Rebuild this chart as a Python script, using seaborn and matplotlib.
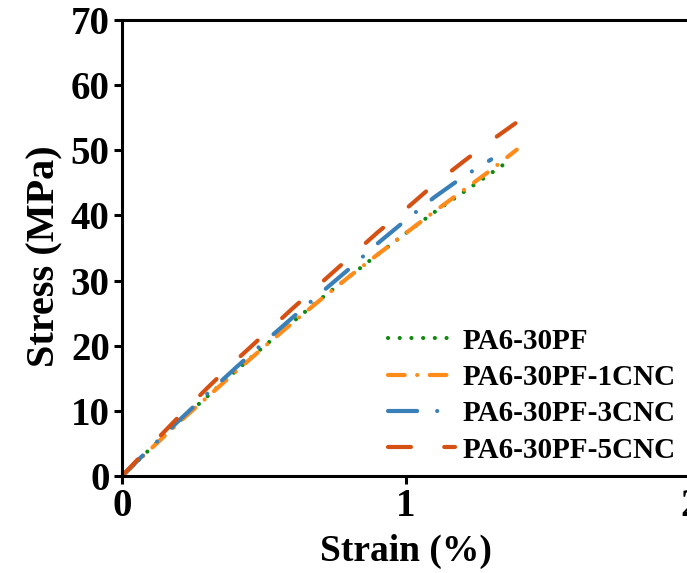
import matplotlib
matplotlib.use("Agg")
import matplotlib.pyplot as plt
import seaborn as sns
import pandas as pd

# ---- data ----
strain_pf = [0, 0.1, 0.2, 0.3, 0.4, 0.5, 0.6, 0.7, 0.8, 0.9, 1.0, 1.1, 1.2, 1.3, 1.37]
stress_pf = [0, 4.2, 8.3, 12.2, 16.1, 19.9, 23.6, 27.2, 30.6, 34.0, 37.3, 40.5, 43.5, 46.5, 48.6]

strain_1cnc = [0, 0.1, 0.2, 0.3, 0.4, 0.5, 0.6, 0.7, 0.8, 0.9, 1.0, 1.1, 1.2, 1.3, 1.39]
stress_1cnc = [0, 4.1, 8.2, 12.1, 16.0, 19.8, 23.5, 27.1, 30.6, 34.0, 37.3, 40.6, 43.8, 47.0, 50.1]

strain_3cnc = [0, 0.1, 0.2, 0.3, 0.4, 0.5, 0.6, 0.7, 0.8, 0.9, 1.0, 1.1, 1.2, 1.3]
stress_3cnc = [0, 4.3, 8.5, 12.6, 16.6, 20.5, 24.3, 28.1, 31.8, 35.7, 39.3, 42.8, 45.9, 48.6]

strain_5cnc = [0, 0.1, 0.2, 0.3, 0.4, 0.5, 0.6, 0.7, 0.8, 0.9, 1.0, 1.1, 1.2, 1.3, 1.4]
stress_5cnc = [0, 4.6, 9.1, 13.5, 17.7, 21.7, 25.7, 29.6, 33.5, 37.4, 41.0, 44.8, 48.2, 51.5, 54.6]

labels = ["PA6-30PF", "PA6-30PF-1CNC", "PA6-30PF-3CNC", "PA6-30PF-5CNC"]
colors = ["#0f8a0f", "#ff8c1a", "#3a80b8", "#d45113"]
x_ticks = [0, 1, 2]
y_ticks = [0, 10, 20, 30, 40, 50, 60, 70]

# ---- style ----
sns.set_style("ticks")
plt.rcParams["font.family"] = ["Liberation Serif", "DejaVu Serif"]
plt.rcParams["font.weight"] = "bold"
plt.rcParams["text.color"] = "black"
plt.rcParams["axes.labelcolor"] = "black"
plt.rcParams["xtick.color"] = "black"
plt.rcParams["ytick.color"] = "black"
plt.rcParams["lines.dash_capstyle"] = "round"
plt.rcParams["lines.solid_capstyle"] = "round"

fig = plt.figure(figsize=(6.87, 5.73), dpi=100)
ax = fig.add_axes([122 / 687, 97 / 573, 568 / 687, 456 / 573])

series = [
    (strain_pf, stress_pf),
    (strain_1cnc, stress_1cnc),
    (strain_3cnc, stress_3cnc),
    (strain_5cnc, stress_5cnc),
]
lw = 3.0
styles = [
    (0, (0.01, 2.8)),
    (0, (4.0, 3.0, 0.01, 3.0)),
    (0, (7.0, 4.8, 0.01, 4.8)),
    (0, (5.5, 8.0)),
]

for (xs, ys), lab, col, ls in zip(series, labels, colors, styles):
    df = pd.DataFrame({"Strain": xs, "Stress": ys})
    sns.lineplot(data=df, x="Strain", y="Stress", ax=ax, color=col,
                 label=lab, linewidth=lw, linestyle=ls)

ax.set_xlim(0, 2)
ax.set_ylim(0, 70)
ax.set_xticks(x_ticks)
ax.set_xticklabels([str(t) for t in x_ticks])
ax.set_yticks(y_ticks)
ax.set_yticklabels([str(t) for t in y_ticks])

for s in ["left", "bottom", "top", "right"]:
    ax.spines[s].set_linewidth(2.2)
    ax.spines[s].set_color("black")

ax.tick_params(axis="both", direction="out", length=5.8, width=2.2,
               labelsize=28, pad=3, colors="black")
for lbl in ax.get_xticklabels() + ax.get_yticklabels():
    lbl.set_fontweight("bold")
    lbl.set_color("black")

ax.set_xlabel("Strain (%)", fontsize=27, fontweight="bold", labelpad=6, color="black")
ax.set_ylabel("Stress (MPa)", fontsize=29, fontweight="bold", color="black")
ax.yaxis.set_label_coords(-0.104, 0.482)

leg = ax.legend(loc="center left", bbox_to_anchor=(0.468, 0.1765),
                frameon=False, prop={"family": "Liberation Serif", "weight": "bold", "size": 21},
                handlelength=2.3, handletextpad=0.25, labelspacing=0.32,
                borderpad=0, borderaxespad=0)
for t in leg.get_texts():
    t.set_color("black")

fig.savefig("out.png", dpi=100)
